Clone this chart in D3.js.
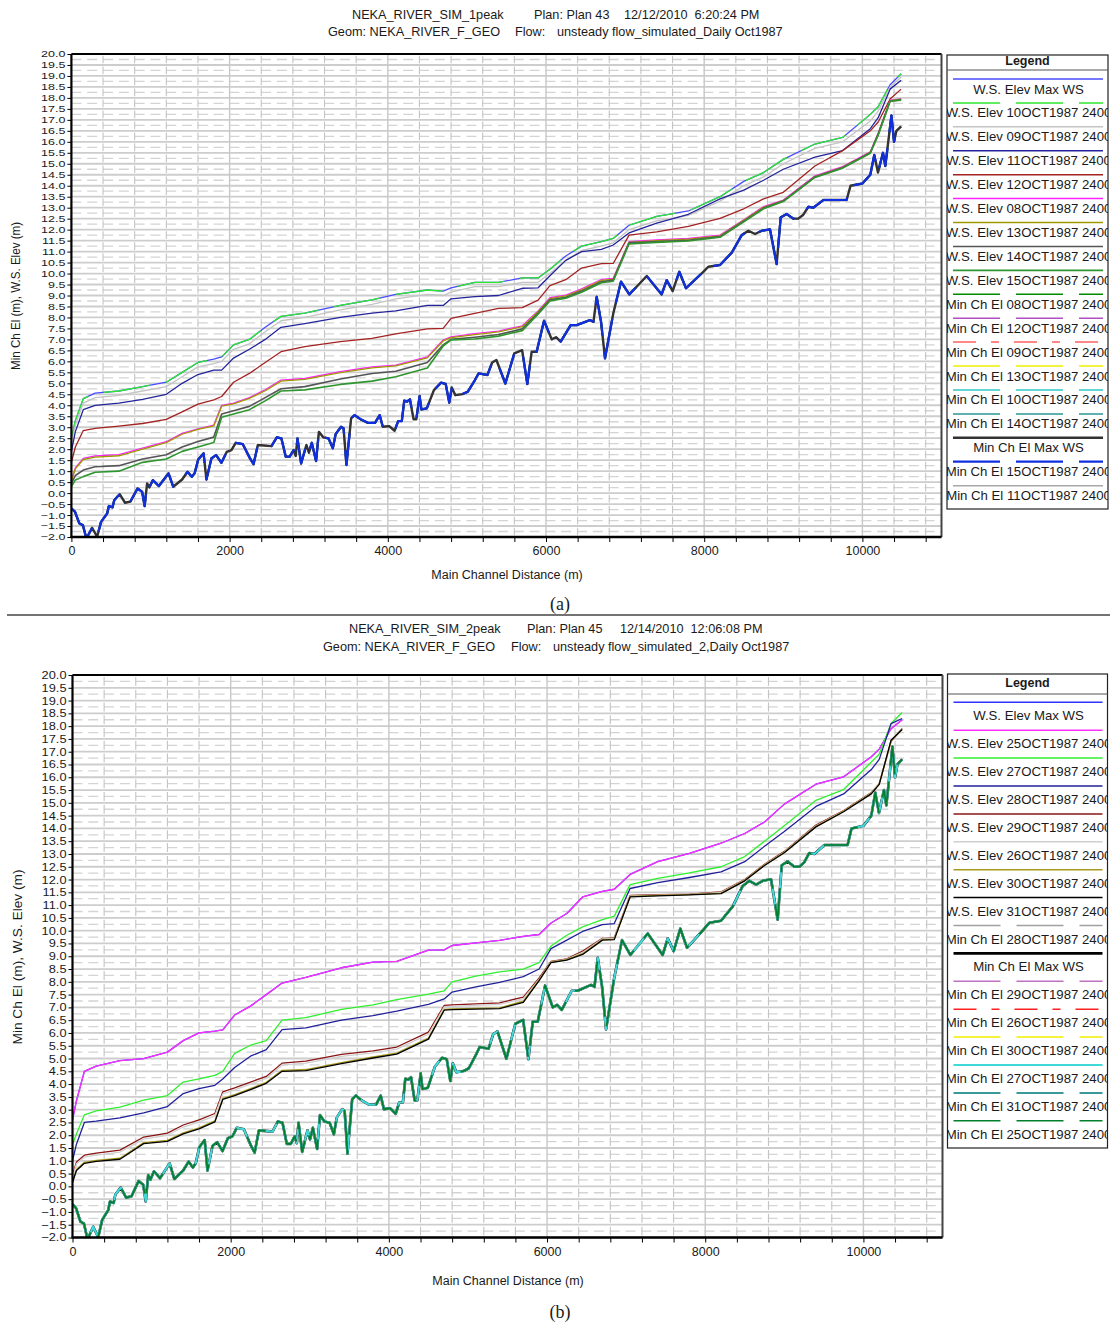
<!DOCTYPE html>
<html>
<head>
  <meta charset="utf-8">
  <script src="https://d3js.org/d3.v7.min.js"></script>
  <style>
    body { margin: 0; background: #fff; }
    svg text { font-family: "Liberation Sans", Arial, Helvetica, sans-serif; fill: #1a1a1a; }
  </style>
</head>
<body>
<script>
// stations (main channel distance, m) at which the water surface profiles are read
var stations = [0, 50, 150, 300, 600, 900, 1200, 1400, 1600, 1800,
  1900, 2050, 2250, 2450, 2650, 2950, 3400, 3800, 4100, 4500,
  4700, 4800, 5100, 5400, 5700, 5900, 6050, 6250, 6450, 6700,
  6850, 7050, 7400, 7800, 8200, 8500, 8750, 9000, 9400, 9750,
  10100, 10200, 10350, 10490];

// (a) single peak: W.S. elevations
var aWsMax = [2.5, 3.3, 4.3, 4.55, 4.65, 4.85, 5.05, 5.5, 5.95, 6.1,
  6.2, 6.75, 7.0, 7.55, 8.05, 8.2, 8.55, 8.8, 9.05, 9.25,
  9.2, 9.35, 9.6, 9.6, 9.8, 9.8, 10.2, 10.8, 11.25, 11.45,
  11.6, 12.2, 12.6, 12.85, 13.5, 14.2, 14.6, 15.2, 15.9, 16.2,
  17.25, 17.6, 18.6, 19.1];
var aWs09 = [2.3, 3.1, 4.1, 4.35, 4.45, 4.65, 4.85, 5.3, 5.75, 5.9,
  6.0, 6.55, 6.8, 7.35, 7.85, 8.0, 8.35, 8.6, 8.85, 9.05,
  9.0, 9.15, 9.4, 9.4, 9.6, 9.6, 10.0, 10.6, 11.05, 11.25,
  11.4, 12.0, 12.4, 12.65, 13.3, 14.0, 14.4, 15.0, 15.7, 16.0,
  16.95, 17.4, 18.5, 18.95];
var aWs11 = [1.9, 2.8, 3.8, 4.0, 4.1, 4.27, 4.5, 5.0, 5.4, 5.6,
  5.6, 6.15, 6.55, 7.0, 7.55, 7.72, 8.0, 8.2, 8.3, 8.55,
  8.55, 8.85, 8.95, 9.0, 9.33, 9.35, 9.9, 10.6, 11.0, 11.1,
  11.3, 11.85, 12.3, 12.7, 13.4, 13.8, 14.25, 14.75, 15.3, 15.6,
  16.6, 17.1, 18.4, 18.8];
var aWs12 = [1.4, 2.1, 2.85, 2.95, 3.05, 3.17, 3.36, 3.7, 4.05, 4.25,
  4.4, 5.05, 5.45, 5.95, 6.44, 6.67, 6.9, 7.05, 7.25, 7.48,
  7.5, 7.96, 8.19, 8.41, 8.45, 8.79, 9.45, 9.72, 10.25, 10.45,
  10.46, 11.75, 11.9, 12.15, 12.51, 12.95, 13.4, 13.7, 14.9, 15.6,
  16.5, 16.9, 17.95, 18.4];
var aWs08 = [0.6, 1.15, 1.58, 1.69, 1.75, 2.05, 2.34, 2.72, 2.93, 3.1,
  4.0, 4.1, 4.35, 4.7, 5.15, 5.22, 5.53, 5.75, 5.83, 6.2,
  6.97, 7.12, 7.26, 7.38, 7.62, 8.3, 8.9, 9.02, 9.3, 9.73,
  9.78, 11.45, 11.53, 11.6, 11.75, 12.45, 13.05, 13.35, 14.45, 14.87,
  15.55, 16.4, 17.9, 17.95];
var aWs13 = [0.55, 1.1, 1.53, 1.64, 1.7, 2.0, 2.3, 2.68, 2.9, 3.06,
  3.96, 4.06, 4.31, 4.66, 5.1, 5.18, 5.49, 5.7, 5.79, 6.16,
  6.93, 7.08, 7.22, 7.34, 7.58, 8.26, 8.86, 8.98, 9.26, 9.69,
  9.74, 11.42, 11.5, 11.57, 11.72, 12.42, 13.02, 13.32, 14.42, 14.84,
  15.52, 16.37, 17.88, 17.94];
var aWs14 = [0.45, 0.8, 1.05, 1.2, 1.25, 1.55, 1.75, 2.1, 2.35, 2.55,
  3.6, 3.75, 3.95, 4.35, 4.75, 4.85, 5.2, 5.45, 5.55, 5.95,
  6.75, 7.0, 7.1, 7.22, 7.48, 8.2, 8.8, 8.92, 9.2, 9.63,
  9.7, 11.4, 11.46, 11.52, 11.68, 12.38, 12.98, 13.3, 14.4, 14.82,
  15.5, 16.35, 17.85, 17.92];
var aWs15 = [0.3, 0.6, 0.75, 0.95, 1.0, 1.4, 1.55, 1.9, 2.1, 2.3,
  3.45, 3.6, 3.8, 4.2, 4.65, 4.7, 4.95, 5.1, 5.3, 5.7,
  6.7, 6.98, 7.02, 7.15, 7.4, 8.15, 8.75, 8.88, 9.15, 9.58,
  9.65, 11.35, 11.42, 11.48, 11.65, 12.35, 12.95, 13.28, 14.38, 14.8,
  15.48, 16.3, 17.85, 17.9];

// (b) two peaks: W.S. elevations
var bWsMax = [2.6, 3.35, 4.5, 4.7, 4.92, 5.0, 5.25, 5.7, 6.0, 6.07,
  6.12, 6.7, 7.05, 7.5, 7.95, 8.17, 8.55, 8.77, 8.8, 9.24,
  9.25, 9.42, 9.52, 9.62, 9.78, 9.85, 10.3, 10.67, 11.32, 11.54,
  11.62, 12.2, 12.7, 13.02, 13.42, 13.8, 14.25, 14.95, 15.73, 16.02,
  16.8, 17.1, 17.9, 18.25];
var bWs27 = [1.65, 2.05, 2.8, 2.95, 3.1, 3.37, 3.55, 4.08, 4.2, 4.34,
  4.5, 5.2, 5.52, 5.7, 6.5, 6.6, 6.92, 7.1, 7.3, 7.52,
  7.65, 8.0, 8.22, 8.39, 8.5, 8.75, 9.4, 9.82, 10.15, 10.43,
  10.57, 11.8, 12.05, 12.26, 12.5, 12.9, 13.5, 14.1, 15.1, 15.52,
  16.6, 16.9, 18.1, 18.53];
var bWs28 = [1.0, 1.65, 2.5, 2.55, 2.68, 2.87, 3.12, 3.63, 3.82, 3.95,
  4.2, 4.65, 5.09, 5.35, 6.13, 6.2, 6.5, 6.68, 6.85, 7.12,
  7.33, 7.6, 7.8, 7.98, 8.2, 8.5, 9.3, 9.63, 9.97, 10.24,
  10.28, 11.65, 11.88, 12.08, 12.3, 12.7, 13.3, 13.88, 14.86, 15.35,
  16.3, 16.7, 18.1, 18.3];
var bWs29 = [0.45, 0.95, 1.22, 1.3, 1.42, 1.93, 2.08, 2.4, 2.6, 2.85,
  3.7, 3.85, 4.08, 4.3, 4.82, 4.9, 5.16, 5.3, 5.45, 6.03,
  7.08, 7.1, 7.14, 7.18, 7.4, 8.15, 8.8, 8.9, 9.2, 9.7,
  9.72, 11.38, 11.41, 11.43, 11.52, 12.0, 12.6, 13.1, 14.13, 14.7,
  15.4, 15.75, 17.4, 17.91];
var bWs26 = [0.38, 0.88, 1.14, 1.22, 1.34, 1.85, 2.0, 2.32, 2.52, 2.76,
  3.62, 3.77, 4.0, 4.22, 4.74, 4.82, 5.08, 5.22, 5.37, 5.95,
  7.02, 7.04, 7.08, 7.12, 7.34, 8.1, 8.78, 8.88, 9.15, 9.68,
  9.7, 11.36, 11.39, 11.42, 11.5, 11.98, 12.58, 13.08, 14.1, 14.68,
  15.38, 15.74, 17.42, 17.9];
var bWs30 = [0.19, 0.66, 0.94, 1.02, 1.1, 1.71, 1.8, 2.09, 2.29, 2.56,
  3.44, 3.59, 3.82, 4.07, 4.54, 4.57, 4.84, 5.06, 5.21, 5.8,
  6.92, 6.94, 6.96, 6.98, 7.24, 8.08, 8.77, 8.87, 9.1, 9.65,
  9.67, 11.34, 11.38, 11.41, 11.47, 11.97, 12.57, 13.07, 14.08, 14.67,
  15.37, 15.73, 17.44, 17.88];
var bWs31 = [0.15, 0.62, 0.9, 0.98, 1.06, 1.67, 1.76, 2.05, 2.25, 2.52,
  3.4, 3.55, 3.78, 4.03, 4.5, 4.53, 4.8, 5.02, 5.17, 5.76,
  6.89, 6.91, 6.93, 6.95, 7.2, 8.05, 8.75, 8.85, 9.07, 9.63,
  9.65, 11.32, 11.36, 11.4, 11.45, 11.95, 12.55, 13.05, 14.06, 14.65,
  15.35, 15.72, 17.45, 17.87];

// channel bed (Min Ch El), same geometry for both runs
var bedDist = [0, 45, 100, 145, 190, 262, 325, 375, 452, 474,
  520, 542, 610, 678, 745, 836, 894, 926, 957, 985,
  1030, 1106, 1228, 1287, 1400, 1468, 1522, 1558, 1603, 1671,
  1707, 1770, 1829, 1897, 1964, 2023, 2077, 2167, 2258, 2303,
  2357, 2529, 2597, 2655, 2710, 2760, 2809, 2836, 2858, 2904,
  2971, 3003, 3039, 3093, 3129, 3184, 3251, 3305, 3341, 3409,
  3441, 3477, 3536, 3581, 3657, 3748, 3838, 3897, 3937, 4018,
  4086, 4131, 4177, 4208, 4245, 4280, 4326, 4360, 4402, 4425,
  4493, 4583, 4673, 4732, 4777, 4809, 4854, 4944, 5012, 5102,
  5148, 5260, 5319, 5373, 5486, 5599, 5698, 5764, 5819, 5882,
  5975, 6072, 6127, 6186, 6312, 6388, 6556, 6600, 6641, 6696,
  6746, 6851, 6948, 7053, 7167, 7273, 7462, 7526, 7601, 7685,
  7770, 7989, 8052, 8200, 8348, 8474, 8558, 8643, 8727, 8832,
  8916, 8967, 9043, 9127, 9190, 9253, 9316, 9380, 9464, 9506,
  9600, 9800, 9850, 10000, 10100, 10150, 10197, 10260, 10290, 10367,
  10400, 10430, 10490];
var bedElev = [-0.7, -0.85, -1.38, -1.46, -2.07, -1.58, -1.99, -1.31, -0.93, -0.59,
  -0.65, -0.32, -0.05, -0.44, -0.39, 0.21, 0.06, -0.59, 0.44, 0.26,
  0.59, 0.32, 0.9, 0.29, 0.62, 0.97, 0.74, 0.9, 1.53, 1.81,
  0.62, 1.58, 1.73, 1.38, 1.88, 1.96, 2.29, 2.23, 1.58, 1.32,
  2.19, 2.14, 2.54, 2.49, 1.66, 1.66, 1.96, 1.69, 2.49, 1.35,
  2.19, 1.84, 2.29, 1.46, 2.79, 2.54, 2.49, 2.04, 2.69, 3.02,
  2.95, 1.28, 3.4, 3.55, 3.36, 3.2, 3.2, 3.55, 3.02, 3.05,
  2.84, 3.28, 3.28, 4.21, 4.17, 4.27, 3.36, 3.36, 4.42, 3.81,
  3.86, 4.69, 5.03, 4.97, 4.12, 4.81, 4.46, 4.51, 4.62, 5.15,
  5.45, 5.38, 5.95, 6.06, 4.99, 6.36, 6.51, 4.97, 6.44, 6.44,
  7.85, 7.0, 7.1, 6.9, 7.65, 7.65, 7.88, 7.8, 8.94, 7.8,
  6.14, 8.19, 9.63, 9.05, 9.48, 9.89, 9.05, 9.7, 9.2, 10.08,
  9.33, 10.08, 10.31, 10.39, 10.95, 11.75, 11.95, 11.8, 11.95, 12.01,
  10.43, 12.56, 12.71, 12.5, 12.5, 12.68, 13.04, 13.0, 13.23, 13.35,
  13.35, 13.35, 14.0, 14.1, 14.5, 15.4, 14.6, 15.5, 14.9, 17.2,
  16.0, 16.5, 16.7];

// axis ticks
var xTicks = [0, 2000, 4000, 6000, 8000, 10000];
var yTicks = d3.range(-2, 20.001, 0.5);

// legend entries, in legend order
var seriesA = [
  { label: "W.S. Elev Max WS", color: "#4b4bff", w: 1.3, values: aWsMax },
  { label: "W.S. Elev 10OCT1987 2400", color: "#2ee82e", dash: "47,16", w: 1.3, values: aWsMax },
  { label: "W.S. Elev 09OCT1987 2400", color: "#c4c4c4", w: 1.3, values: aWs09 },
  { label: "W.S. Elev 11OCT1987 2400", color: "#23239a", w: 1.3, values: aWs11 },
  { label: "W.S. Elev 12OCT1987 2400", color: "#a32222", w: 1.3, values: aWs12 },
  { label: "W.S. Elev 08OCT1987 2400", color: "#ff22ff", w: 1.3, values: aWs08 },
  { label: "W.S. Elev 13OCT1987 2400", color: "#a09a00", w: 1.3, values: aWs13 },
  { label: "W.S. Elev 14OCT1987 2400", color: "#555555", w: 1.6, values: aWs14 },
  { label: "W.S. Elev 15OCT1987 2400", color: "#2f962f", w: 1.6, values: aWs15 },
  { label: "Min Ch El 08OCT1987 2400", color: "#008a00", dash: "47,16", w: 1.5, bed: true },
  { label: "Min Ch El 12OCT1987 2400", color: "#b050c0", dash: "47,16", w: 1.5, bed: true },
  { label: "Min Ch El 09OCT1987 2400", color: "#ff6060", dash: "23,15,8,15", w: 1.5, bed: true },
  { label: "Min Ch El 13OCT1987 2400", color: "#f0f000", dash: "47,16", w: 1.5, bed: true },
  { label: "Min Ch El 10OCT1987 2400", color: "#30c8c8", dash: "47,16", w: 1.5, bed: true },
  { label: "Min Ch El 14OCT1987 2400", color: "#5fb0b0", dash: "47,16", w: 2, bed: true },
  { label: "Min Ch El Max WS", color: "#333333", w: 2.4, bed: true, late: 1 },
  { label: "Min Ch El 15OCT1987 2400", color: "#1030e0", dash: "47,16", w: 2.2, bed: true, late: 2 },
  { label: "Min Ch El 11OCT1987 2400", color: "#a8a8a8", w: 1.5, bed: true }
];

var seriesB = [
  { label: "W.S. Elev Max WS", color: "#3030ff", w: 1.3, values: bWsMax },
  { label: "W.S. Elev 25OCT1987 2400", color: "#ff30ff", w: 1.3, values: bWsMax },
  { label: "W.S. Elev 27OCT1987 2400", color: "#2ef02e", w: 1.3, values: bWs27 },
  { label: "W.S. Elev 28OCT1987 2400", color: "#20209a", w: 1.3, values: bWs28 },
  { label: "W.S. Elev 29OCT1987 2400", color: "#8b1414", w: 1.3, values: bWs29 },
  { label: "W.S. Elev 26OCT1987 2400", color: "#cfcfcf", w: 1.3, values: bWs26 },
  { label: "W.S. Elev 30OCT1987 2400", color: "#a89a20", w: 1.3, values: bWs30 },
  { label: "W.S. Elev 31OCT1987 2400", color: "#000000", w: 1.3, values: bWs31 },
  { label: "Min Ch El 28OCT1987 2400", color: "#a0a0a0", dash: "47,16", w: 1.5, bed: true },
  { label: "Min Ch El Max WS", color: "#000000", w: 2.6, bed: true },
  { label: "Min Ch El 29OCT1987 2400", color: "#c070c0", dash: "47,16", w: 1.5, bed: true },
  { label: "Min Ch El 26OCT1987 2400", color: "#ff2020", dash: "23,15,8,15", w: 1.5, bed: true },
  { label: "Min Ch El 30OCT1987 2400", color: "#f0f000", dash: "47,16", w: 1.5, bed: true },
  { label: "Min Ch El 27OCT1987 2400", color: "#40d8d8", w: 2.2, bed: true },
  { label: "Min Ch El 31OCT1987 2400", color: "#3a9a9a", dash: "47,16", w: 2, bed: true },
  { label: "Min Ch El 25OCT1987 2400", color: "#00802a", dash: "47,16", w: 1.6, bed: true }
];

var svg = d3.select("body").append("svg")
    .attr("width", 1112)
    .attr("height", 1323);

function drawPanel(p) {
  var g = svg.append("g");
  var x = d3.scaleLinear().domain([0, 11000]).range([p.left, p.right]);
  var y = d3.scaleLinear().domain([-2, 20]).range([p.bottom, p.top]);
  var step = y(0) - y(0.5);

  // header lines
  p.titles.forEach(function (t) {
    g.append("text")
        .attr("x", t[0]).attr("y", t[1])
        .style("font-size", "12.7px")
        .style("white-space", "pre")
        .text(t[2]);
  });

  // grid: solid every 0.5, dashed between, short vertical dashes at minor x
  var grid = g.append("g");
  var quarter = d3.range(-1.75, 20, 0.5);
  var minorX = d3.range(400, 11000, 400).filter(function (d) { return d % 2000 !== 0; });
  grid.selectAll(null).data(quarter).join("line")
      .attr("x1", p.left).attr("x2", p.right)
      .attr("y1", function (d) { return y(d); }).attr("y2", function (d) { return y(d); })
      .attr("stroke", "#d4d4d4").attr("stroke-width", 1.3)
      .attr("stroke-dasharray", "10,5.8");
  grid.selectAll(null).data(yTicks).join("line")
      .attr("x1", p.left).attr("x2", p.right)
      .attr("y1", function (d) { return y(d); }).attr("y2", function (d) { return y(d); })
      .attr("stroke", "#cdcdcd").attr("stroke-width", 1.8);
  var L = step * 0.7;
  grid.selectAll(null).data(minorX).join("line")
      .attr("x1", function (d) { return x(d); }).attr("x2", function (d) { return x(d); })
      .attr("y1", p.top).attr("y2", p.bottom)
      .attr("stroke", "#c4c4c4").attr("stroke-width", 1.1)
      .attr("stroke-dasharray", L + "," + (step - L))
      .attr("stroke-dashoffset", L / 2 - step / 2);
  grid.selectAll(null).data(xTicks.slice(1)).join("line")
      .attr("x1", function (d) { return x(d); }).attr("x2", function (d) { return x(d); })
      .attr("y1", p.top).attr("y2", p.bottom)
      .attr("stroke", "#c8c8c8").attr("stroke-width", 1.4);

  // the profiles
  var clipId = p.id + "-clip";
  g.append("clipPath").attr("id", clipId).append("rect")
      .attr("x", p.left).attr("y", p.top)
      .attr("width", p.right - p.left).attr("height", p.bottom - p.top);
  var plot = g.append("g").attr("clip-path", "url(#" + clipId + ")");

  var wsLine = d3.line()
      .x(function (d, i) { return x(stations[i]); })
      .y(function (d) { return y(d); });
  var bedPts = bedDist.map(function (d, i) { return [d, bedElev[i]]; });
  var bedLine = d3.line()
      .x(function (d) { return x(d[0]); })
      .y(function (d) { return y(d[1]); });

  var ordered = p.series.slice().sort(function (a, b) {
    return (a.late || 0) - (b.late || 0);
  });
  ordered.forEach(function (s) {
    plot.append("path")
        .attr("d", s.bed ? bedLine(bedPts) : wsLine(s.values))
        .attr("fill", "none")
        .attr("stroke", s.color)
        .attr("stroke-width", s.w)
        .attr("stroke-linejoin", "round")
        .attr("stroke-dasharray", s.dash || null);
  });

  // axes
  var yAxis = d3.axisLeft(y).tickValues(yTicks)
      .tickFormat(d3.format(".1f")).tickSize(4).tickPadding(2);
  var ya = g.append("g")
      .attr("transform", "translate(" + p.left + ",0)")
      .attr("font-family", null).attr("font-size", null)
      .call(yAxis);
  ya.select(".domain").remove();
  ya.selectAll("line").attr("stroke", "#000");
  ya.selectAll("text")
      .style("font-size", p.tickFont)
      .attr("transform", "scale(1," + p.tickSquash + ")")
      .attr("fill", "#1a1a1a");

  var xAxis = d3.axisBottom(x).tickValues(d3.range(0, 11000, 400))
      .tickFormat(function (d) { return xTicks.indexOf(d) >= 0 ? d : ""; })
      .tickSize(5).tickPadding(p.xPad);
  var xa = g.append("g")
      .attr("transform", "translate(0," + p.bottom + ")")
      .attr("font-family", null).attr("font-size", null)
      .call(xAxis);
  xa.select(".domain").remove();
  xa.selectAll("line").attr("stroke", "#000");
  xa.selectAll("text").style("font-size", "12.5px").attr("fill", "#1a1a1a");

  // frame
  g.append("line").attr("x1", p.left).attr("x2", p.right).attr("y1", p.top).attr("y2", p.top)
      .attr("stroke", "#000").attr("stroke-width", 2);
  g.append("line").attr("x1", p.right).attr("x2", p.right).attr("y1", p.top).attr("y2", p.bottom)
      .attr("stroke", "#444").attr("stroke-width", 2);
  g.append("line").attr("x1", p.left).attr("x2", p.left).attr("y1", p.top).attr("y2", p.bottom)
      .attr("stroke", "#000").attr("stroke-width", 2.2);
  g.append("line").attr("x1", p.left - 1).attr("x2", p.right).attr("y1", p.bottom).attr("y2", p.bottom)
      .attr("stroke", "#000").attr("stroke-width", 2.6);

  // axis titles
  g.append("text")
      .attr("x", p.xTitle[0]).attr("y", p.xTitle[1])
      .attr("text-anchor", "middle")
      .style("font-size", "12.5px")
      .text("Main Channel Distance (m)");
  g.append("text")
      .attr("transform", "translate(" + p.yTitle[0] + "," + p.yTitle[1] + ") rotate(-90)")
      .attr("text-anchor", "middle")
      .attr("textLength", p.yTitle[2])
      .attr("lengthAdjust", "spacingAndGlyphs")
      .style("font-size", "12.5px")
      .text("Min Ch El (m), W.S. Elev (m)");

  // legend
  var lg = g.append("g");
  var lw = p.legW, lx = p.legX;
  var legClip = p.id + "-legclip";
  lg.append("clipPath").attr("id", legClip).append("rect")
      .attr("x", lx).attr("y", p.legTop).attr("width", lw).attr("height", p.legBottom - p.legTop);
  lg.append("rect")
      .attr("x", lx).attr("y", p.legTop)
      .attr("width", lw).attr("height", p.legBottom - p.legTop)
      .attr("fill", "#fff").attr("stroke", "#222").attr("stroke-width", 1.2);
  lg.append("text")
      .attr("x", lx + lw / 2).attr("y", p.headerY)
      .attr("text-anchor", "middle")
      .style("font-size", "12.5px").style("font-weight", "bold")
      .text("Legend");
  lg.append("line")
      .attr("x1", lx).attr("x2", lx + lw).attr("y1", p.sepY).attr("y2", p.sepY)
      .attr("stroke", "#555").attr("stroke-width", 1.2);
  var items = lg.append("g").attr("clip-path", "url(#" + legClip + ")");
  var rows = items.selectAll(null).data(p.series).join("g")
      .attr("transform", function (d, i) { return "translate(0," + (p.item0 + i * p.itemStep) + ")"; });
  rows.append("line")
      .attr("x1", lx + 6).attr("x2", lx + lw - 5)
      .attr("stroke", function (d) { return d.color; })
      .attr("stroke-width", function (d) { return Math.max(d.w, 1.5); })
      .attr("stroke-dasharray", function (d) { return d.dash || null; });
  rows.append("text")
      .attr("x", lx + lw / 2 + 1).attr("y", p.textDy)
      .attr("text-anchor", "middle")
      .style("font-size", "13.2px")
      .text(function (d) { return d.label; });
}

drawPanel({
  id: "pa", left: 71.4, right: 941.5, top: 54, bottom: 537, xPad: 4,
  tickFont: "12.5px", tickSquash: 0.74,
  titles: [
    [352, 19, "NEKA_RIVER_SIM_1peak"], [534, 19, "Plan: Plan 43"], [624, 19, "12/12/2010  6:20:24 PM"],
    [328, 36, "Geom: NEKA_RIVER_F_GEO"], [515, 36, "Flow:"], [557, 36, "unsteady flow_simulated_Daily Oct1987"]
  ],
  xTitle: [507, 579], yTitle: [20, 296, 148],
  series: seriesA,
  legX: 947, legW: 161, legTop: 55, legBottom: 509, headerY: 65, sepY: 70,
  item0: 79, itemStep: 23.92, textDy: 14.5
});

drawPanel({
  id: "pb", left: 72.5, right: 942.5, top: 675, bottom: 1237.5, xPad: 5,
  tickFont: "12.8px", tickSquash: 0.85,
  titles: [
    [349, 633, "NEKA_RIVER_SIM_2peak"], [527, 633, "Plan: Plan 45"], [620, 633, "12/14/2010  12:06:08 PM"],
    [323, 651, "Geom: NEKA_RIVER_F_GEO"], [511, 651, "Flow:"], [553, 651, "unsteady flow_simulated_2,Daily Oct1987"]
  ],
  xTitle: [508, 1285], yTitle: [22, 957, 175],
  series: seriesB,
  legX: 947.5, legW: 160, legTop: 674, legBottom: 1148, headerY: 687, sepY: 694,
  item0: 702.3, itemStep: 27.9, textDy: 18
});

// panel captions and separator
svg.append("line")
    .attr("x1", 7).attr("x2", 1110).attr("y1", 615).attr("y2", 615)
    .attr("stroke", "#444").attr("stroke-width", 1.5);
svg.append("text")
    .attr("x", 560).attr("y", 610).attr("text-anchor", "middle")
    .style("font-family", "'Liberation Serif', 'Times New Roman', serif")
    .style("font-size", "18px")
    .text("(a)");
svg.append("text")
    .attr("x", 560).attr("y", 1318).attr("text-anchor", "middle")
    .style("font-family", "'Liberation Serif', 'Times New Roman', serif")
    .style("font-size", "18px")
    .text("(b)");
</script>
</body>
</html>
